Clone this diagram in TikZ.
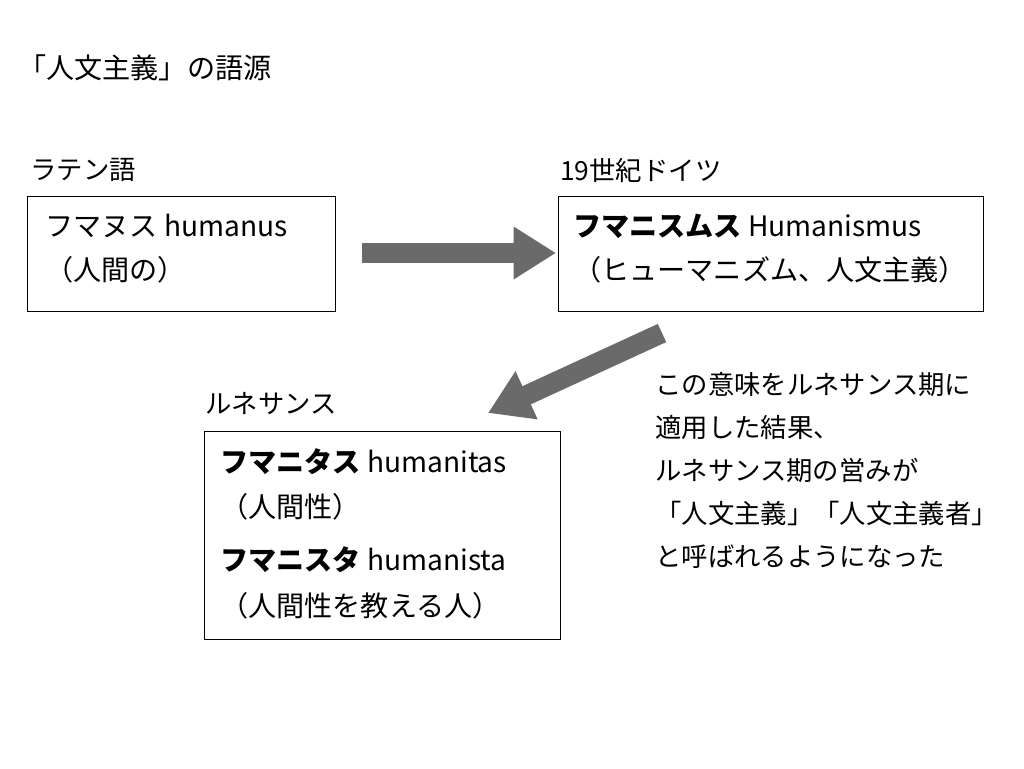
\documentclass[tikz,border=0pt]{standalone}
\usepackage{fontspec}
\setmainfont{Noto Sans CJK JP}
\usetikzlibrary{arrows.meta, positioning}
\definecolor{arrowgray}{HTML}{6a6a6a}

\begin{document}
\begin{tikzpicture}[x=0.02cm, y=-0.02cm,
    box/.style={draw, thick, anchor=north west, inner sep=0pt},
    boxtext/.style={anchor=north west, align=left, font=\fontsize{16}{25}\selectfont, inner sep=0pt},
    lbl/.style={anchor=west, font=\fontsize{15}{20}\selectfont, inner sep=0pt},
    bigarrow/.style={arrowgray, line width=0.4cm, -{Triangle[length=0.85cm, width=1.0cm]}}]
    \useasboundingbox (0,0) rectangle (1024,768);
    \node[lbl, font=\fontsize{16}{20}\selectfont] (title) at (18,68) {「人文主義」の語源};
    % boxes
    \node[box, minimum width=6.16cm, minimum height=2.3cm] (latin) at (27,196) {};
    \node[box, minimum width=8.5cm, minimum height=2.3cm] (german) at (558,196) {};
    \node[box, minimum width=7.12cm, minimum height=4.16cm] (renai) at (204,431) {};
    \node[lbl] (latinlbl) at (30,170) {ラテン語};
    \node[lbl] (germanlbl) at (560,170) {19世紀ドイツ};
    \node[lbl] (renailbl) at (205,404) {ルネサンス};
    % box texts
    \node[boxtext] (latintxt) at (45,214) {フマヌス humanus\\（人間の）};
    \node[boxtext] (germantxt) at (573,214) {\textbf{フマニスムス} Humanismus\\（ヒューマニズム、人文主義）};
    \node[boxtext, font=\fontsize{16}{26}\selectfont] (renaitxt) at (220,448)
        {\textbf{フマニタス} humanitas\\（人間性）\\[4pt]\textbf{フマニスタ} humanista\\（人間性を教える人）};
    % arrows
    \coordinate (a1s) at (362,253);
    \coordinate (a1e) at (556,253);
    \coordinate (a2s) at (662,333);
    \coordinate (a2e) at (488,413);
    \draw[bigarrow] (a1s) -- (a1e);
    \draw[bigarrow] (a2s) -- (a2e);
    % note
    \node[boxtext, font=\fontsize{15}{24.5}\selectfont] (note) at (655,372)
        {この意味をルネサンス期に\\適用した結果、\\ルネサンス期の営みが\\「人文主義」「人文主義者」\\と呼ばれるようになった};
\end{tikzpicture}
\end{document}
